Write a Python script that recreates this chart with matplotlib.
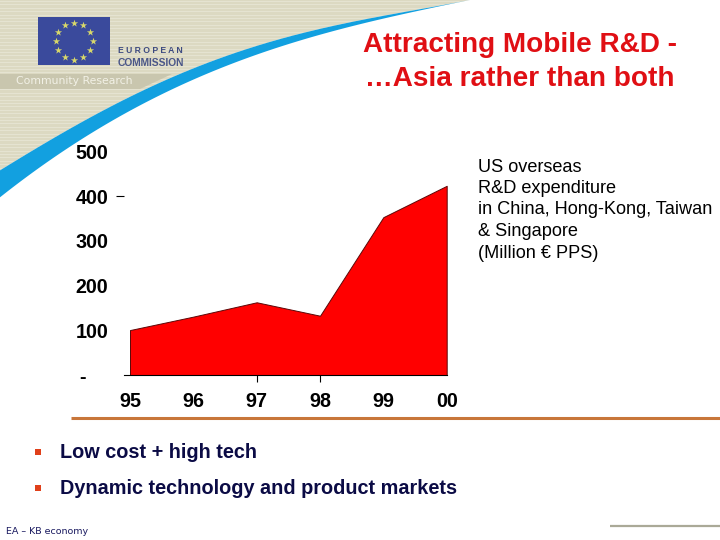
import numpy as np
import matplotlib
matplotlib.use("Agg")
import matplotlib.pyplot as plt
from matplotlib.patches import Polygon, Rectangle
from matplotlib.transforms import ScaledTranslation

plt.rcParams['font.family'] = ['Liberation Sans', 'DejaVu Sans']

years = ['95', '96', '97', '98', '99', '00']
values = [101, 131, 163, 133, 353, 423]
y_ticks = [0, 100, 200, 300, 400, 500]
y_labels = ['-', '100', '200', '300', '400', '500']
visible_x_ticks = ['97', '98']
visible_y_ticks = [400]

title_lines = ['Attracting Mobile R&D -', '…Asia rather than both']
note_lines = ['US overseas', 'R&D expenditure', 'in China, Hong-Kong, Taiwan', '& Singapore', '(Million € PPS)']
bullets = ['Low cost + high tech', 'Dynamic technology and product markets']
footer = 'EA – KB economy'

W, H = 720, 540
fig = plt.figure(figsize=(7.2, 5.4), dpi=100, facecolor='white')

# slide background in pixel coordinates
bg = fig.add_axes([0, 0, 1, 1], zorder=0)
bg.set_xlim(0, W)
bg.set_ylim(H, 0)
bg.axis('off')

# swoosh outline, smoothed
up_x = [0, 67, 133, 200, 267, 360, 470]
up_y = [170, 132, 93, 67, 43, 20, 0]
lo_x = [0, 67, 133, 200, 267, 360, 470]
lo_y = [197, 150, 107, 78, 51, 24, 0]
xs = np.linspace(0, 470, 120)
upper = np.polyval(np.polyfit(up_x, up_y, 4), xs)
lower = np.polyval(np.polyfit(lo_x, lo_y, 4), xs)
upper_pts = np.column_stack([xs, upper])
lower_pts = np.column_stack([xs, lower])[::-1]

beige_pts = np.vstack([upper_pts, [[498, 0], [0, 0]]])
bg.add_patch(Polygon(beige_pts, closed=True, fc='#dcd9c2', ec='none', zorder=1))
beige_clip = Polygon(beige_pts, closed=True, transform=bg.transData)
for yy in np.arange(1, 175, 3.4):
    ln, = bg.plot([0, 500], [yy, yy], color='#e5e3d1', lw=0.8, zorder=1.1)
    ln.set_clip_path(beige_clip)

bg.add_patch(Polygon(np.vstack([upper_pts, lower_pts]), closed=True, fc='#12a0e0', ec='none', zorder=2))

# community research strip
bg.add_patch(Polygon([(0, 74), (172, 74), (140, 89), (0, 89)], closed=True, fc='#c9c6ae', ec='none', zorder=1.5))
bg.text(15.5, 81.5, 'Community Research', color='#f2f1e6', fontsize=7.8, va='center', ha='left', zorder=3,
        family=['DejaVu Sans'])

# flag
bg.add_patch(Rectangle((38, 17), 72, 48, fc='#3a4a9c', ec='none', zorder=3))
ang = np.deg2rad(np.arange(0, 360, 30))
bg.scatter(74 + 18.5 * np.cos(ang), 41 + 18.5 * np.sin(ang), marker='*', s=30, color='#d8d86a', linewidths=0, zorder=4)
bg.text(118, 50.5, 'E U R O P E A N', color='#3d4a80', fontsize=6.2, fontweight='bold', va='center', ha='left', zorder=3)
bg.text(118, 62.5, 'COMMISSION', color='#4a5688', fontsize=7.4, fontweight='bold', va='center', ha='left', zorder=3)

# title
for line, yy in zip(title_lines, [44.5, 78.5]):
    bg.text(520, yy, line, color='#e00f14', fontsize=20.1, fontweight='bold', ha='center', va='center', zorder=3)

# side note
for line, yy in zip(note_lines, [167, 188.5, 210, 231.5, 253]):
    bg.text(478, yy, line, color='black', fontsize=13.1, ha='left', va='center', zorder=3)

# rule
bg.plot([71, 720], [417.5, 417.5], color='#c8763a', lw=2.2, solid_capstyle='butt', zorder=3)
bg.plot([610, 720], [526, 526], color='#aaa997', lw=1.6, solid_capstyle='butt', zorder=3)

# bullets
for line, yy in zip(bullets, [451.5, 487.5]):
    bg.scatter([37.5], [yy], marker='s', s=22, color='#e0401a', linewidths=0, zorder=3)
    bg.text(60, yy + 0.5, line, color='#0b0b45', fontsize=14.3, fontweight='bold', ha='left', va='center', zorder=3)

bg.text(6, 531, footer, color='#1a1a60', fontsize=6.8, ha='left', va='center', zorder=3, family=['DejaVu Sans'])

# chart: axes box placed in pixels, x from 124 to 447, y value 0 at 375.3, 500 at 151.3
x_px = (124, 446.7)
y_px = (375.3, 151.3)
ax = fig.add_axes([x_px[0] / W, 1 - y_px[0] / H, (x_px[1] - x_px[0]) / W, (y_px[0] - y_px[1]) / H], zorder=5)
ax.patch.set_alpha(0)
x = np.arange(len(years))
step = (446.7 - 130) / 5
ax.set_xlim(-(130 - 124) / step, 5)
ax.set_ylim(0, 500)
ax.fill_between(x, values, 0, facecolor='#ff0000', edgecolor='#5a0808', linewidth=0.7, zorder=2)

for s in ['top', 'right', 'left']:
    ax.spines[s].set_visible(False)
ax.spines['bottom'].set_color('black')
ax.spines['bottom'].set_linewidth(0.8)

ax.set_xticks(x, years)
ax.set_yticks(y_ticks, y_labels)
ax.tick_params(axis='x', length=5, width=0.8, pad=7, labelsize=14.2)
ax.tick_params(axis='y', length=6, width=0.8, pad=5.5, labelsize=14.2, left=True)
for t, name in zip(ax.xaxis.get_major_ticks(), years):
    t.tick1line.set_visible(name in visible_x_ticks)
for t, v in zip(ax.yaxis.get_major_ticks(), y_ticks):
    t.tick1line.set_visible(v in visible_y_ticks)
for lab in ax.get_xticklabels() + ax.get_yticklabels():
    lab.set_fontweight('bold')
    lab.set_color('black')
# the zero label sits further left, as in an accounting number format
zero_label = ax.get_yticklabels()[0]
zero_label.set_transform(zero_label.get_transform() + ScaledTranslation(-22 / 100, 0, fig.dpi_scale_trans))

fig.savefig('out.png', dpi=100)
